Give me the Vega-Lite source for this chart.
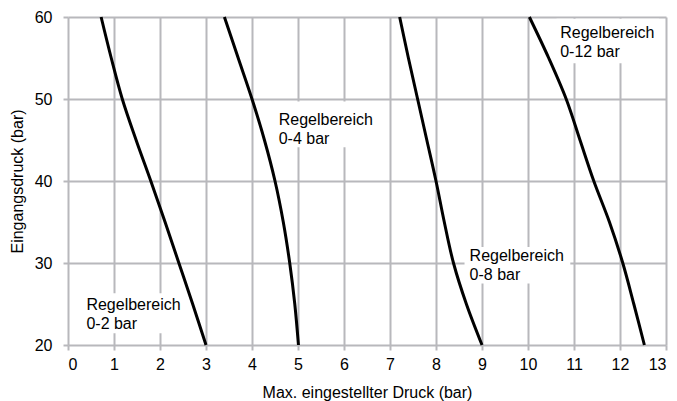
{
  "$schema": "https://vega.github.io/schema/vega-lite/v6.json",
  "width": 598,
  "height": 328,
  "autosize": "none",
  "padding": {"left": 68, "top": 17, "right": 11, "bottom": 56},
  "background": "white",
  "config": {
    "view": {"stroke": null},
    "font": "Liberation Sans",
    "axis": {
      "domain": false,
      "grid": true,
      "gridColor": "#b8b8bc",
      "gridWidth": 2,
      "gridOpacity": 1,
      "tickColor": "#b8b8bc",
      "tickWidth": 2,
      "tickSize": 5,
      "labelFont": "Liberation Sans",
      "labelFontSize": 16,
      "labelColor": "black",
      "titleFont": "Liberation Sans",
      "titleFontSize": 16,
      "titleFontWeight": "normal",
      "titleColor": "black"
    }
  },
  "datasets": {
    "curves": [
      {"bereich": "0-2", "druck": 0.72, "eingang": 60},
      {"bereich": "0-2", "druck": 0.94, "eingang": 55},
      {"bereich": "0-2", "druck": 1.18, "eingang": 50},
      {"bereich": "0-2", "druck": 1.48, "eingang": 45},
      {"bereich": "0-2", "druck": 1.8, "eingang": 40},
      {"bereich": "0-2", "druck": 2.11, "eingang": 35},
      {"bereich": "0-2", "druck": 2.41, "eingang": 30},
      {"bereich": "0-2", "druck": 2.71, "eingang": 25},
      {"bereich": "0-2", "druck": 3.0, "eingang": 20},
      {"bereich": "0-4", "druck": 3.4, "eingang": 60},
      {"bereich": "0-4", "druck": 3.7, "eingang": 55},
      {"bereich": "0-4", "druck": 4.0, "eingang": 50},
      {"bereich": "0-4", "druck": 4.27, "eingang": 45},
      {"bereich": "0-4", "druck": 4.5, "eingang": 40},
      {"bereich": "0-4", "druck": 4.68, "eingang": 35},
      {"bereich": "0-4", "druck": 4.82, "eingang": 30},
      {"bereich": "0-4", "druck": 4.93, "eingang": 25},
      {"bereich": "0-4", "druck": 5.01, "eingang": 20},
      {"bereich": "0-8", "druck": 7.21, "eingang": 60},
      {"bereich": "0-8", "druck": 7.4, "eingang": 55},
      {"bereich": "0-8", "druck": 7.6, "eingang": 50},
      {"bereich": "0-8", "druck": 7.8, "eingang": 45},
      {"bereich": "0-8", "druck": 8.0, "eingang": 40},
      {"bereich": "0-8", "druck": 8.18, "eingang": 35},
      {"bereich": "0-8", "druck": 8.38, "eingang": 30},
      {"bereich": "0-8", "druck": 8.66, "eingang": 25},
      {"bereich": "0-8", "druck": 9.0, "eingang": 20},
      {"bereich": "0-12", "druck": 10.03, "eingang": 60},
      {"bereich": "0-12", "druck": 10.45, "eingang": 55},
      {"bereich": "0-12", "druck": 10.83, "eingang": 50},
      {"bereich": "0-12", "druck": 11.13, "eingang": 45},
      {"bereich": "0-12", "druck": 11.43, "eingang": 40},
      {"bereich": "0-12", "druck": 11.77, "eingang": 35},
      {"bereich": "0-12", "druck": 12.06, "eingang": 30},
      {"bereich": "0-12", "druck": 12.3, "eingang": 25},
      {"bereich": "0-12", "druck": 12.53, "eingang": 20}
    ],
    "labels": [
      {"bereich": "0-2", "label": "Regelbereich\n0-2 bar", "tx": 0.4, "ty": 24.23, "bx1": 0.34, "bx2": 2.49, "by1": 21.43, "by2": 26.3},
      {"bereich": "0-4", "label": "Regelbereich\n0-4 bar", "tx": 4.58, "ty": 46.79, "bx1": 4.51, "bx2": 6.73, "by1": 44.11, "by2": 49.7},
      {"bereich": "0-8", "label": "Regelbereich\n0-8 bar", "tx": 8.73, "ty": 30.21, "bx1": 8.62, "bx2": 10.92, "by1": 27.49, "by2": 31.95},
      {"bereich": "0-12", "label": "Regelbereich\n0-12 bar", "tx": 10.7, "ty": 57.44, "bx1": 10.62, "bx2": 12.85, "by1": 54.35, "by2": 59.8}
    ]
  },
  "layer": [
    {
      "data": {"name": "labels"},
      "mark": {"type": "rect", "fill": "white"},
      "encoding": {
        "x": {"field": "bx1", "type": "quantitative", "scale": {"domain": [0, 13], "nice": false, "zero": false}, "axis": {"values": [0,1,2,3,4,5,6,7,8,9,10,11,12,13], "labelPadding": 6, "titlePadding": 12}, "title": "Max. eingestellter Druck (bar)"},
        "x2": {"field": "bx2"},
        "y": {"field": "by1", "type": "quantitative", "scale": {"domain": [20, 60], "nice": false, "zero": false}, "axis": {"values": [20, 30, 40, 50, 60], "labelPadding": 11, "titlePadding": 9}, "title": "Eingangsdruck (bar)"},
        "y2": {"field": "by2"}
      }
    },
    {
      "data": {"name": "curves"},
      "mark": {"type": "line", "color": "black", "strokeWidth": 3, "interpolate": "catmull-rom"},
      "encoding": {
        "x": {"field": "druck", "type": "quantitative", "title": "Max. eingestellter Druck (bar)"},
        "y": {"field": "eingang", "type": "quantitative", "title": "Eingangsdruck (bar)"},
        "detail": {"field": "bereich"}
      }
    },
    {
      "data": {"name": "labels"},
      "mark": {"type": "text", "align": "left", "baseline": "alphabetic", "fontSize": 16, "lineBreak": "\n", "lineHeight": 19, "color": "black", "font": "Liberation Sans"},
      "encoding": {
        "x": {"field": "tx", "type": "quantitative", "title": "Max. eingestellter Druck (bar)"},
        "y": {"field": "ty", "type": "quantitative", "title": "Eingangsdruck (bar)"},
        "text": {"field": "label"}
      }
    }
  ]
}
